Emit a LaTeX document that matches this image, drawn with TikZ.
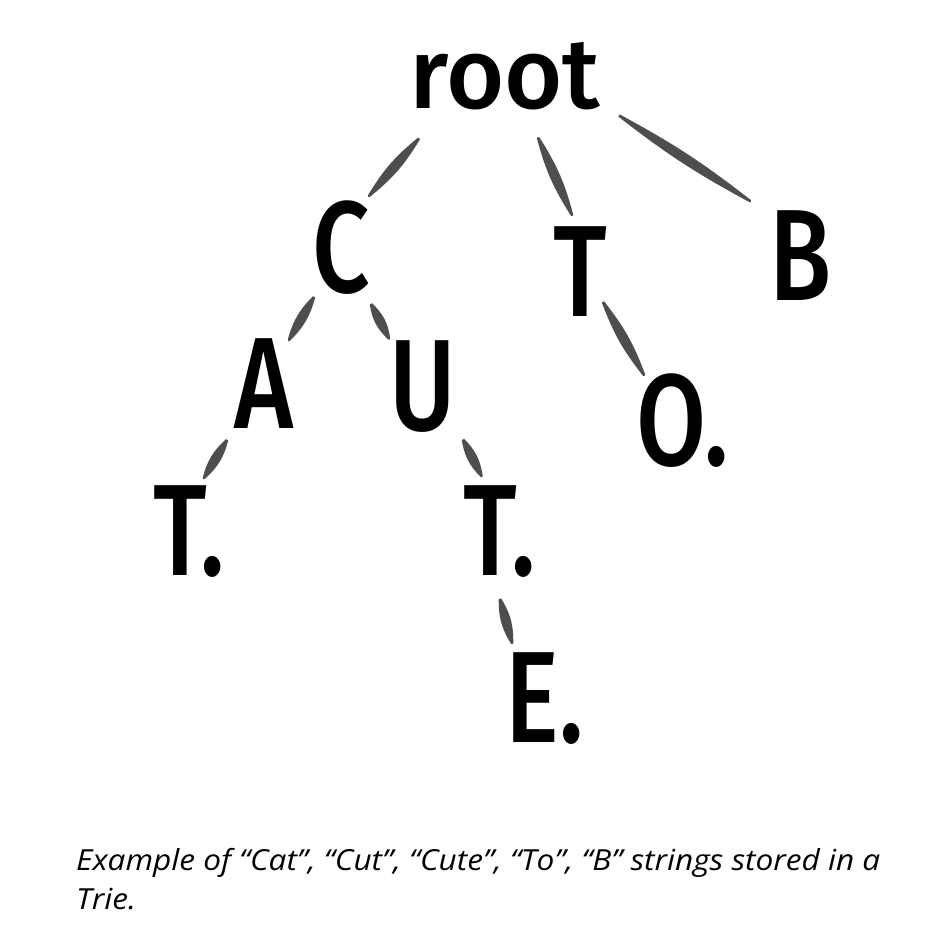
\documentclass[tikz,border=0pt]{standalone}
\usepackage{fontspec}
\setmainfont{Open Sans}
\newfontfamily\handfont[FakeStretch=0.78]{Fira Sans Medium}
\newfontfamily\rootfont[FakeStretch=1.0]{Fira Sans Medium}
\newfontfamily\capfont[FakeStretch=1.09]{Open Sans}
\usetikzlibrary{calc}
\definecolor{edgegray}{RGB}{78,78,80}
\tikzset{
  letter/.style={inner sep=0pt, text=black, font=\handfont\fontsize{130}{130}\selectfont},
  rootlabel/.style={inner sep=0pt, text=black, font=\rootfont\fontsize{100}{100}\selectfont},
  edgefill/.style={fill=edgegray, draw=edgegray, line width=2.5pt, line join=round},
  caption/.style={inner sep=0pt, anchor=base west, align=left, font=\capfont\itshape\fontsize{29}{39}\selectfont}
}
\newcommand\trieedge[2]{\path[edgefill] let \p1=($(#2)-(#1)$), \n1={2*atan(6.5/veclen(\x1,\y1))} in (#1) to[bend left=\n1] (#2) to[bend left=\n1] (#1);}
\begin{document}
\begin{tikzpicture}[x=1pt,y=-1pt]
\fill[white] (0,0) rectangle (930,928);
\useasboundingbox (0,0) rectangle (930,928);
% nodes
\node[rootlabel] (root) at (505,76.5) {root};
\node[letter] (C) at (341,248) {C};
\node[letter] (T) at (580,272) {T};
\node[letter] (B) at (801,256) {B};
\node[letter] (A) at (264,384) {A};
\node[letter] (U) at (423,386.5) {U};
\node[letter] (O) at (683,421) {O.};
\node[letter] (TL) at (189,532) {T.};
\node[letter] (TM) at (499.5,532) {T.};
\node[letter] (E) at (545,699) {E.};
% edge end points
\coordinate (rootC1) at ($(root)+(-86,62)$);
\coordinate (rootC2) at ($(C)+(28,-52)$);
\coordinate (rootT1) at ($(root)+(33,61)$);
\coordinate (rootT2) at ($(T)+(-8,-57)$);
\coordinate (rootB1) at ($(root)+(114,39)$);
\coordinate (rootB2) at ($(B)+(-51,-55)$);
\coordinate (CA1) at ($(C)+(-27,49)$);
\coordinate (CA2) at ($(A)+(25,-44)$);
\coordinate (CU1) at ($(C)+(30,56)$);
\coordinate (CU2) at ($(U)+(-34,-48)$);
\coordinate (TO1) at ($(T)+(23,30)$);
\coordinate (TO2) at ($(O)+(-39,-46)$);
\coordinate (ATL1) at ($(A)+(-37,56)$);
\coordinate (ATL2) at ($(TL)+(15,-54)$);
\coordinate (UTM1) at ($(U)+(40,53)$);
\coordinate (UTM2) at ($(TM)+(-18,-56)$);
\coordinate (TME1) at ($(TM)+(0.5,67)$);
\coordinate (TME2) at ($(E)+(-33,-56)$);
% connectors
\trieedge{rootC1}{rootC2}
\trieedge{rootT1}{rootT2}
\trieedge{rootB1}{rootB2}
\trieedge{CA1}{CA2}
\trieedge{CU1}{CU2}
\trieedge{TO1}{TO2}
\trieedge{ATL1}{ATL2}
\trieedge{UTM1}{UTM2}
\trieedge{TME1}{TME2}
% caption
\node[caption] (cap) at (76,909) {Example of “Cat”, “Cut”, “Cute”, “To”, “B” strings stored in a\\Trie.};
\end{tikzpicture}
\end{document}
